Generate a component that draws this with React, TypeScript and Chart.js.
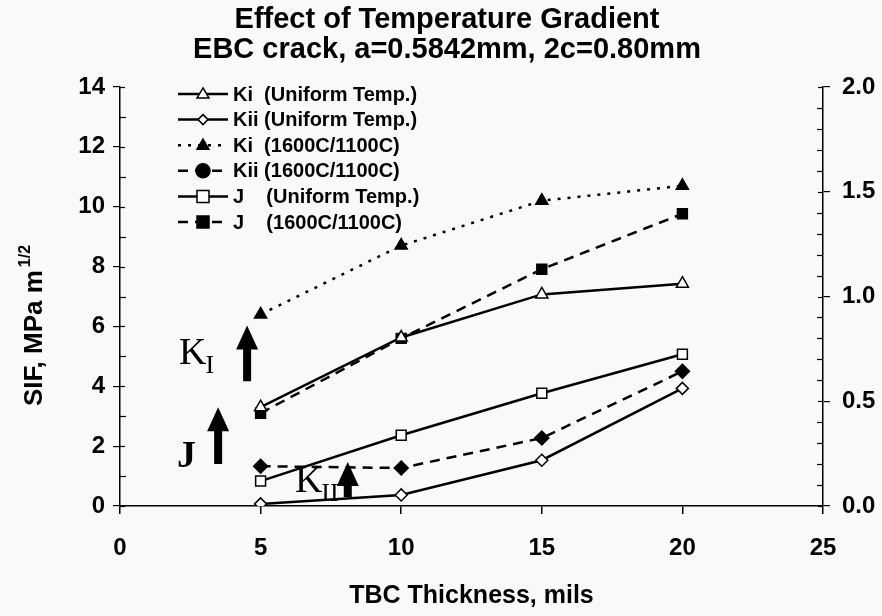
import React, { useEffect, useRef } from "react";
import { Chart, registerables } from "chart.js";

Chart.register(...registerables);

// ---------- data ----------
const thickness = [5, 10, 15, 20];
const kiUniform = [3.3, 5.63, 7.07, 7.43];
const kiiUniform = [0.07, 0.37, 1.53, 3.93];
const kiGradient = [6.4, 8.7, 10.2, 10.7];
const kiiGradient = [1.33, 1.27, 2.27, 4.5];
// J values plotted against the right axis
const jUniform = [0.119, 0.338, 0.538, 0.724];
const jGradient = [0.443, 0.8, 1.13, 1.395];

const seriesLabels = [
  "Ki  (Uniform Temp.)",
  "Kii (Uniform Temp.)",
  "Ki  (1600C/1100C)",
  "Kii (1600C/1100C)",
  "J    (Uniform Temp.)",
  "J    (1600C/1100C)",
];

const titleLines = ["Effect of Temperature Gradient", "EBC crack, a=0.5842mm, 2c=0.80mm"];
const xTitle = "TBC Thickness, mils";
const yTitleMain = "SIF, MPa m";
const yTitleSup = "1/2";

// annotation labels and arrows (data coordinates)
const annoLabels = [
  { main: "K", sub: "I", x: 2.1, y: 4.73, bold: false },
  { main: "J", sub: "", x: 2.03, y: 1.3, bold: true },
  { main: "K", sub: "II", x: 6.22, y: 0.47, bold: false },
];
const annoArrows = [
  { x: 4.52, yFrom: 4.17, yTo: 6.03 },
  { x: 3.49, yFrom: 1.4, yTo: 3.3 },
  { x: 8.1, yFrom: 0.3, yTo: 1.47 },
];

const FONT = "'Liberation Sans', Arial, sans-serif";
const SERIF = "'Liberation Serif', 'Times New Roman', serif";
const BG = "#f9f9f9";
const TICK_FONT = { family: FONT, size: 24, weight: "bold" };

const pts = (vals: number[]) => thickness.map((t, i) => ({ x: t, y: vals[i] }));

function drawMarker(ctx: CanvasRenderingContext2D, style: string, x: number, y: number, r: number, fill: string) {
  ctx.beginPath();
  if (style === "triangle") {
    const h = r * 1.7;
    ctx.moveTo(x, y - h * 0.6);
    ctx.lineTo(x + r, y + h * 0.4);
    ctx.lineTo(x - r, y + h * 0.4);
    ctx.closePath();
  } else if (style === "rectRot") {
    ctx.moveTo(x, y - r);
    ctx.lineTo(x + r, y);
    ctx.lineTo(x, y + r);
    ctx.lineTo(x - r, y);
    ctx.closePath();
  } else if (style === "circle") {
    ctx.arc(x, y, r, 0, Math.PI * 2);
  } else {
    ctx.rect(x - r, y - r, 2 * r, 2 * r);
  }
  ctx.fillStyle = fill;
  ctx.fill();
  ctx.lineWidth = 1.5;
  ctx.strokeStyle = "#000";
  ctx.stroke();
}

const legendMarkers = [
  { style: "triangle", r: 6, fill: "#fff" },
  { style: "rectRot", r: 5, fill: "#fff" },
  { style: "triangle", r: 6, fill: "#000" },
  { style: "circle", r: 7, fill: "#000" },
  { style: "rect", r: 6, fill: "#fff" },
  { style: "rect", r: 6, fill: "#000" },
];

const isMajorLeft = (v: number) => Math.round(v) % 2 === 0;
const isMajorRight = (v: number) => Math.abs(v * 2 - Math.round(v * 2)) < 1e-6;

const decorPlugin = {
  id: "decor",
  beforeDraw(chart: any) {
    const { ctx } = chart;
    ctx.save();
    ctx.fillStyle = BG;
    ctx.fillRect(0, 0, chart.width, chart.height);
    ctx.restore();
  },
  afterDatasetsDraw(chart: any) {
    const { ctx } = chart;
    const xs = chart.scales.x;
    const ys = chart.scales.y;
    const y1 = chart.scales.y1;
    ctx.save();
    // inward ticks on both vertical axes
    ctx.strokeStyle = "#000";
    ctx.lineWidth = 1.2;
    ys.ticks.forEach((t: any) => {
      const py = Math.round(ys.getPixelForValue(t.value)) + 0.5;
      const len = isMajorLeft(t.value) ? 5 : 6;
      ctx.beginPath();
      ctx.moveTo(ys.right, py);
      ctx.lineTo(ys.right + len, py);
      ctx.stroke();
    });
    y1.ticks.forEach((t: any) => {
      const py = Math.round(y1.getPixelForValue(t.value)) + 0.5;
      const len = isMajorRight(t.value) ? 5 : 6;
      ctx.beginPath();
      ctx.moveTo(y1.left, py);
      ctx.lineTo(y1.left - len, py);
      ctx.stroke();
    });
    // arrows
    ctx.fillStyle = "#000";
    annoArrows.forEach((a) => {
      const px = xs.getPixelForValue(a.x);
      const pb = ys.getPixelForValue(a.yFrom);
      const pt = ys.getPixelForValue(a.yTo);
      const hl = 24, hw = 11, sw = 4;
      ctx.beginPath();
      ctx.moveTo(px - sw, pb);
      ctx.lineTo(px - sw, pt + hl);
      ctx.lineTo(px - hw, pt + hl);
      ctx.lineTo(px, pt);
      ctx.lineTo(px + hw, pt + hl);
      ctx.lineTo(px + sw, pt + hl);
      ctx.lineTo(px + sw, pb);
      ctx.closePath();
      ctx.fill();
    });
    // labels
    ctx.textAlign = "left";
    ctx.textBaseline = "alphabetic";
    annoLabels.forEach((l) => {
      const px = xs.getPixelForValue(l.x);
      const py = ys.getPixelForValue(l.y);
      ctx.font = (l.bold ? "bold " : "") + "38px " + SERIF;
      ctx.fillText(l.main, px, py);
      const w = ctx.measureText(l.main).width;
      if (l.sub) {
        ctx.font = "26px " + SERIF;
        ctx.fillText(l.sub, px + w - 1, py + 9);
      }
    });
    ctx.restore();
  },
  afterDraw(chart: any) {
    const { ctx } = chart;
    const ca = chart.chartArea;
    ctx.save();
    // title
    ctx.fillStyle = "#000";
    ctx.textAlign = "center";
    ctx.textBaseline = "middle";
    ctx.font = "bold 29px " + FONT;
    ctx.fillText(titleLines[0], 447, 20);
    ctx.fillText(titleLines[1], 447, 50);
    // x title
    ctx.font = "bold 25px " + FONT;
    ctx.fillText(xTitle, (ca.left + ca.right) / 2, 596);
    // y title rotated with superscript
    ctx.save();
    ctx.translate(42, 406);
    ctx.rotate(-Math.PI / 2);
    ctx.textAlign = "left";
    ctx.textBaseline = "alphabetic";
    ctx.font = "bold 26px " + FONT;
    const wm = ctx.measureText(yTitleMain).width;
    ctx.fillText(yTitleMain, 0, 0);
    ctx.font = "bold 16px " + FONT;
    ctx.fillText(yTitleSup, wm + 3, -12);
    ctx.restore();
    // legend
    const lx0 = 178, lx1 = 228, tx = 233, ly0 = 94, step = 25.6;
    chart.data.datasets.forEach((ds: any, i: number) => {
      const y = ly0 + i * step;
      ctx.beginPath();
      ctx.setLineDash(ds.borderDash || []);
      ctx.lineWidth = ds.borderWidth;
      ctx.strokeStyle = "#000";
      ctx.moveTo(lx0, y);
      ctx.lineTo(lx1, y);
      ctx.stroke();
      ctx.setLineDash([]);
      const m = legendMarkers[i];
      drawMarker(ctx, m.style, (lx0 + lx1) / 2, y, m.r, m.fill);
      ctx.fillStyle = "#000";
      ctx.font = "bold 20px " + FONT;
      ctx.textAlign = "left";
      ctx.textBaseline = "middle";
      ctx.fillText(ds.label, tx, y + 1);
    });
    ctx.restore();
  },
};

export default function App() {
  const ref = useRef<HTMLCanvasElement | null>(null);
  useEffect(() => {
    if (!ref.current) return;
    const base = {
      borderColor: "#000",
      pointBorderColor: "#000",
      pointBorderWidth: 1.5,
      borderWidth: 2.5,
      tension: 0,
    };
    const chart = new Chart(ref.current, {
      type: "line",
      data: {
        datasets: [
          { ...base, label: seriesLabels[0], data: pts(kiUniform), yAxisID: "y", pointStyle: "triangle", pointRadius: 7, pointBackgroundColor: "#fff" },
          { ...base, label: seriesLabels[1], data: pts(kiiUniform), yAxisID: "y", pointStyle: "rectRot", pointRadius: 6, pointBackgroundColor: "#fff" },
          { ...base, label: seriesLabels[2], data: pts(kiGradient), yAxisID: "y", pointStyle: "triangle", pointRadius: 7, pointBackgroundColor: "#000", borderDash: [3, 7] },
          { ...base, label: seriesLabels[3], data: pts(kiiGradient), yAxisID: "y", pointStyle: "rectRot", pointRadius: 7, pointBackgroundColor: "#000", borderDash: [10, 7] },
          { ...base, label: seriesLabels[4], data: pts(jUniform), yAxisID: "y1", pointStyle: "rect", pointRadius: 7, pointBackgroundColor: "#fff" },
          { ...base, label: seriesLabels[5], data: pts(jGradient), yAxisID: "y1", pointStyle: "rect", pointRadius: 7, pointBackgroundColor: "#000", borderDash: [10, 7] },
        ] as any,
      },
      options: {
        responsive: false,
        animation: false,
        layout: { padding: { top: 87, left: 0, right: 0, bottom: 0 } },
        plugins: { legend: { display: false }, title: { display: false }, tooltip: { enabled: false } },
        scales: {
          x: {
            type: "linear",
            min: 0,
            max: 25,
            afterFit: (s: any) => { s.height = 110; },
            ticks: { stepSize: 5, color: "#000", font: TICK_FONT, padding: 20, maxRotation: 0 },
            grid: { drawOnChartArea: false, color: "#000", tickLength: 8, lineWidth: 1.5 },
            border: { color: "#000", width: 1.5 },
          },
          y: {
            type: "linear",
            position: "left",
            min: 0,
            max: 14,
            afterFit: (s: any) => { s.width = 120; },
            ticks: {
              stepSize: 1,
              color: "#000",
              font: TICK_FONT,
              padding: 8,
              autoSkip: false,
              callback: (v: any) => (isMajorLeft(v) ? String(Math.round(v)) : ""),
            },
            grid: {
              drawOnChartArea: false,
              tickLength: 7,
              lineWidth: 1.2,
              tickColor: (c: any) => (c.tick && isMajorLeft(c.tick.value) ? "#000" : "rgba(0,0,0,0)"),
            },
            border: { color: "#000", width: 1.5 },
          },
          y1: {
            type: "linear",
            position: "right",
            min: 0,
            max: 2,
            afterFit: (s: any) => { s.width = 59; },
            ticks: {
              stepSize: 0.1,
              color: "#000",
              font: TICK_FONT,
              padding: 12,
              autoSkip: false,
              callback: (v: any) => (isMajorRight(v) ? Number(v).toFixed(1) : ""),
            },
            grid: {
              drawOnChartArea: false,
              tickLength: 7,
              lineWidth: 1.2,
              tickColor: (c: any) => (c.tick && isMajorRight(c.tick.value) ? "#000" : "rgba(0,0,0,0)"),
            },
            border: { color: "#000", width: 1.5 },
          },
        },
      } as any,
      plugins: [decorPlugin],
    });
    return () => chart.destroy();
  }, []);
  return (
    <div style={{ position: "fixed", left: 0, top: 0, width: 882, height: 616, background: BG }}>
      <canvas ref={ref} width={882} height={616} />
    </div>
  );
}
